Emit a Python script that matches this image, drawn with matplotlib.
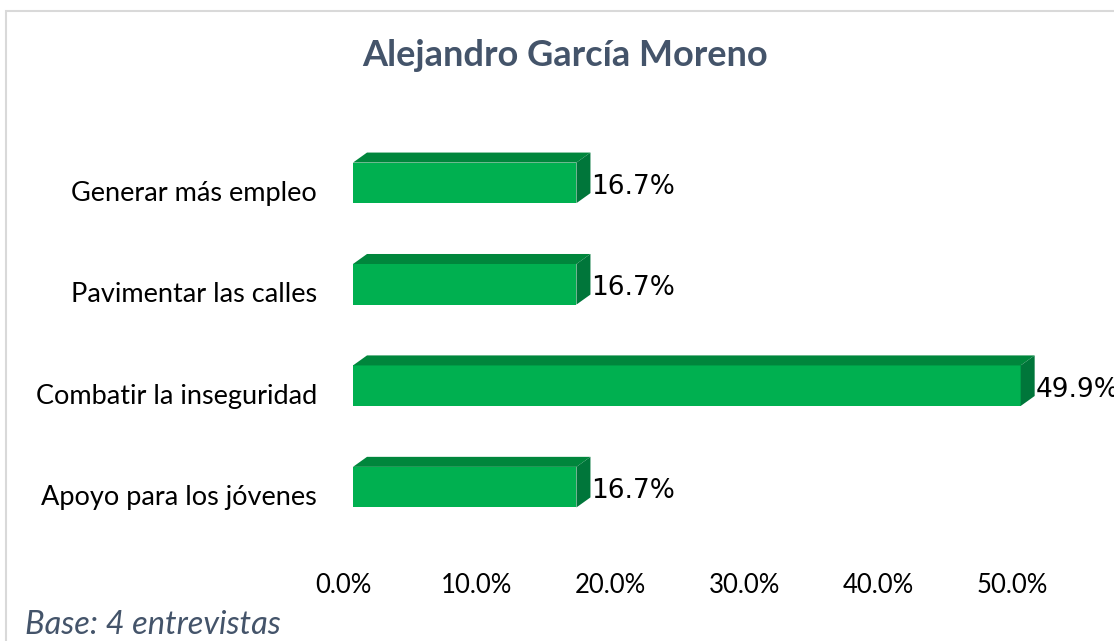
import matplotlib
matplotlib.use("Agg")
import matplotlib.pyplot as plt
import matplotlib.transforms as mtransforms
from matplotlib.patches import Polygon, Rectangle

# datos
categorias = ["Apoyo para los jóvenes", "Combatir la inseguridad",
              "Pavimentar las calles", "Generar más empleo"]
valores = [16.7, 49.9, 16.7, 16.7]
ticks_x = [0, 10, 20, 30, 40, 50]
titulo = "Alejandro García Moreno"
nota = "Base: 4 entrevistas"

verde = "#00B050"
verde_arriba = "#00863C"
verde_lado = "#00763A"
gris_azul = "#44546A"

plt.rcParams['font.family'] = ['Lato', 'DejaVu Sans']

fig = plt.figure(figsize=(11.14, 6.41), dpi=100)
W, H = 1114, 641

# marco del grafico
fig.patches.append(Rectangle((5.5 / W, -0.05), 1.2, 1 - 10.5 / H + 0.05,
                             transform=fig.transFigure, fill=False,
                             edgecolor="#D9D9D9", linewidth=1.5))

ax = fig.add_axes([353 / W, 1 - 548 / H, 52 * 13.38 / W, (548 - 122) / H])
ax.set_xlim(0, 52)
ax.set_ylim(-0.6, 3.6)

alto = 0.4
ys = list(range(len(categorias)))
ax.barh(ys, valores, height=alto, color=verde, zorder=3)

# efecto 3D (profundidad en pixeles -> unidades de datos)
dx = 14 / 13.38
dy = 10 / 101.3
for y, v in zip(ys, valores):
    top = y + alto / 2
    bot = y - alto / 2
    ax.add_patch(Polygon([(0, top), (v, top), (v + dx, top + dy), (dx, top + dy)],
                         closed=True, facecolor=verde_arriba, edgecolor="none", zorder=3))
    ax.add_patch(Polygon([(v, bot), (v + dx, bot + dy), (v + dx, top + dy), (v, top)],
                         closed=True, facecolor=verde_lado, edgecolor="none", zorder=3))
    ax.annotate(f"{v:.1f}%", xy=(v + dx, y), xytext=(0.5, -3), textcoords="offset points",
                ha="left", va="center", fontsize=19, family="DejaVu Sans",
                color="black", annotation_clip=False)

ax.set_yticks(ys)
ax.set_yticklabels(categorias, fontsize=19.5, color="black")
ax.set_xticks(ticks_x)
ax.set_xticklabels([f"{t:.1f}%" for t in ticks_x], fontsize=18.5, color="black")
ax.tick_params(axis="both", length=0)
ax.tick_params(axis="y", pad=26)
ax.tick_params(axis="x", pad=18)

off_y = mtransforms.ScaledTranslation(0, -8 / 100, fig.dpi_scale_trans)
for lab in ax.get_yticklabels():
    lab.set_transform(lab.get_transform() + off_y)
off_x = mtransforms.ScaledTranslation(-10 / 100, 0, fig.dpi_scale_trans)
for lab in ax.get_xticklabels():
    lab.set_transform(lab.get_transform() + off_x)

for s in ax.spines.values():
    s.set_visible(False)
ax.set_facecolor("none")

fig.text(565 / W, 1 - 56 / H, titulo, ha="center", va="center",
         fontsize=26, fontweight="bold", color=gris_azul)
fig.text(25 / W, 1 - 625 / H, nota, ha="left", va="center",
         fontsize=23.5, style="italic", color=gris_azul)

fig.savefig("out.png", dpi=100)
